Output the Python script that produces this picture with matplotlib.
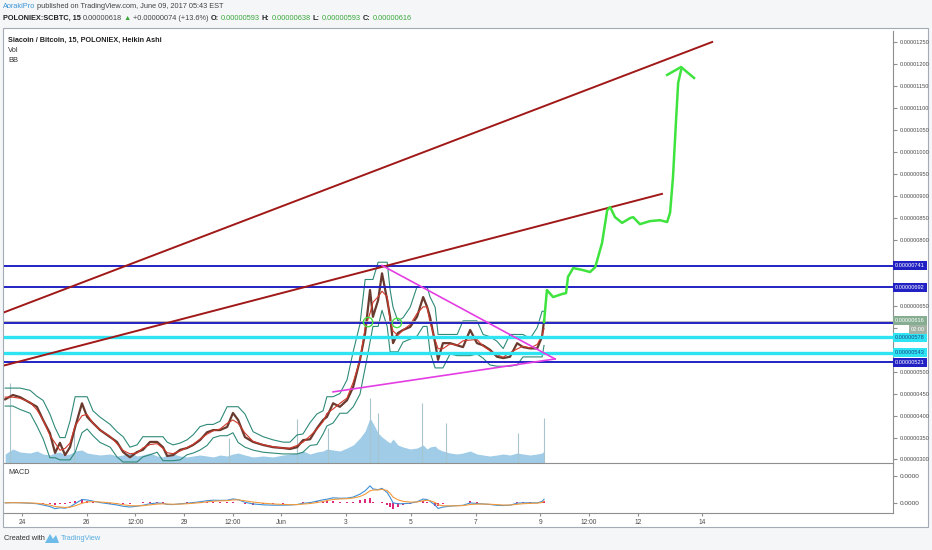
import matplotlib
matplotlib.use("Agg")
import matplotlib.pyplot as plt
import matplotlib.transforms as mtransforms
from matplotlib.patches import Rectangle, Polygon
import pandas as pd

plt.rcParams['font.family'] = ['Liberation Sans Narrow', 'Liberation Sans', 'DejaVu Sans']

W, H = 932, 550

# time = days after 24 May 2017 00:00, prices in satoshi (1e-8 BTC)
price_day = [-0.52, -0.28, -0.06, 0.25, 0.46, 0.65, 0.86, 1.02, 1.17, 1.33, 1.48, 1.64, 1.85, 2.01,
             2.19, 2.41, 2.72, 2.93, 3.12, 3.33, 3.55, 3.73, 3.95, 4.17, 4.35, 4.48, 4.66, 4.88,
             5.09, 5.28, 5.49, 5.71, 5.90, 6.11, 6.33, 6.51, 6.67, 6.88, 7.13, 7.44, 7.75, 8.06,
             8.27, 8.49, 8.67, 8.89, 9.10, 9.29, 9.41, 9.60, 9.81, 10.03, 10.22, 10.43, 10.59,
             10.74, 10.83, 10.99, 11.11, 11.27, 11.36, 11.45, 11.60, 11.76, 11.98, 12.19, 12.38,
             12.50, 12.59, 12.75, 12.84, 12.99, 13.21, 13.43, 13.61, 13.83, 14.04, 14.23, 14.44,
             14.66, 14.85, 15.06, 15.28, 15.46, 15.68, 15.90, 16.05, 16.11]
price_close = [437, 447, 442, 429, 420, 390, 360, 315, 338, 310, 328, 374, 428, 397,
               383, 367, 351, 340, 317, 305, 317, 322, 340, 340, 328, 308, 310, 322,
               326, 333, 344, 362, 367, 367, 374, 406, 390, 351, 340, 333, 328, 326,
               324, 328, 344, 346, 371, 390, 397, 428, 420, 435, 465, 527, 588,
               686, 625, 663, 724, 663, 625, 565, 588, 595, 602, 625, 670,
               648, 625, 565, 527, 565, 565, 560, 556, 595, 565, 560, 550,
               534, 531, 534, 565, 556, 553, 553, 580, 616]
# relative volume at the same times
vol_value = [9, 14, 11, 10, 12, 9, 8, 10, 11, 8, 9, 12, 13, 10,
             9, 8, 9, 7, 8, 10, 7, 8, 10, 7, 6, 8, 9, 7,
             6, 7, 8, 7, 6, 8, 7, 9, 10, 8, 6, 7, 6, 8,
             9, 10, 12, 9, 11, 12, 14, 13, 12, 15, 18, 25, 32,
             45, 40, 30, 26, 22, 20, 24, 18, 16, 14, 15, 18,
             14, 16, 17, 14, 12, 10, 9, 10, 12, 9, 8, 7,
             8, 9, 8, 10, 9, 8, 9, 10, 12]
spike_day = [-0.37, 1.6, 6.4, 8.5, 9.45, 10.75, 11.0, 12.34, 13.1, 15.3, 16.11]
spike_value = [80, 30, 25, 44, 35, 65, 50, 60, 40, 30, 45]

level_blue = [741, 692, 611, 521]
level_cyan = [578, 543]
last_price = 616

upper_trend_day = [-0.56, 21.3]
upper_trend_price = [635, 1251]
lower_trend_day = [-0.56, 19.75]
lower_trend_price = [514, 905]

tri_top_day = [11.11, 16.45]
tri_top_price = [742, 529]
tri_low_day = [9.60, 16.45]
tri_low_price = [454, 529]

proj_day = [16.11, 16.20, 16.39, 16.67, 16.79, 16.85, 17.01, 17.28, 17.53, 17.69, 17.90, 18.06,
            18.15, 18.30, 18.52, 18.77, 18.86, 19.07, 19.38, 19.69, 19.91, 20.00, 20.09, 20.19,
            20.25, 20.34]
proj_price = [613, 686, 670, 677, 679, 716, 736, 732, 727, 738, 793, 868,
              875, 852, 839, 850, 852, 836, 843, 845, 841, 862, 943, 1080,
              1158, 1187]
arrow_day = [19.91, 20.34, 20.74]
arrow_price = [1176, 1194, 1169]

mark_day = [10.68, 11.57]
mark_price = [613, 611]

price_ticks = list(range(300, 1300, 50))
hidden_ticks = [550, 600, 700, 750]  # covered by the level labels

tick_day = [0, 2, 3.5, 5, 6.5, 8, 10, 12, 14, 16, 17.5, 19, 21]
tick_text = ['24', '26', '12:00', '29', '12:00', 'Jun', '3', '5', '7', '9', '12:00', '12', '14']


def fx(x):
    return x / W


def fy(y):
    return 1 - y / H


fig = plt.figure(figsize=(W / 100, H / 100), dpi=100, facecolor='#f4f6f8')
renderer = fig.canvas.get_renderer()


def run_text(x, y, pieces, size, gap=2.5):
    # write pieces one after another on a line, x and y in pixels
    for txt, col, wt in pieces:
        t = fig.text(fx(x), fy(y), txt, color=col, fontsize=size, fontweight=wt, va='center')
        x += t.get_window_extent(renderer=renderer).width + gap


fig.add_artist(Rectangle((fx(3), fy(527)), 925 / W, 499 / H, transform=fig.transFigure,
                         facecolor='white', edgecolor='#a3acb4', lw=0.8, zorder=0))

ax = fig.add_axes([fx(4), fy(463), 889 / W, 432 / H])
ax.set_xlim(-0.556, 26.88)
ax.set_ylim(292, 1276)

# volume on its own scale
vax = ax.twinx()
vax.set_ylim(0, 432)
vax.fill_between(price_day, vol_value, color='#8fc3e3', alpha=0.85, lw=0)
vax.vlines(spike_day, 0, spike_value, color='#a9c4cc', lw=0.8)
vax.axis('off')
ax.set_zorder(vax.get_zorder() + 1)
ax.patch.set_visible(False)

# price with bands
s = pd.Series(price_close)
mid = s.rolling(3, center=True, min_periods=1).mean()
upper = s.rolling(3, center=True, min_periods=1).max() * 1.035
lower = s.rolling(3, center=True, min_periods=1).min() * 0.965
ax.plot(price_day, upper, color='#2f8a78', lw=0.8)
ax.plot(price_day, lower, color='#2f8a78', lw=0.8)
ax.plot(price_day, price_close, color='#6a3a2e', lw=1.6)
ax.plot(price_day, mid, color='#d0392b', lw=0.8)

# levels
for lv in level_blue:
    ax.axhline(lv, color='#2222c4', lw=1.4)
for lv in level_cyan:
    ax.axhline(lv, color='#2ee3f2', lw=2.4)
ax.axhline(last_price, color='#b0b0b0', lw=0.6)

ax.plot(upper_trend_day, upper_trend_price, color='#a01818', lw=1.4)
ax.plot(lower_trend_day, lower_trend_price, color='#a01818', lw=1.4)
ax.plot(tri_top_day, tri_top_price, color='#e43de4', lw=1.2)
ax.plot(tri_low_day, tri_low_price, color='#e43de4', lw=1.2)
ax.plot(proj_day, proj_price, color='#3ee33e', lw=1.8)
ax.plot(arrow_day, arrow_price, color='#3ee33e', lw=1.8)
ax.scatter(mark_day, mark_price, s=45, facecolors='none', edgecolors='#44dd44', lw=1.0, zorder=5)

ax.yaxis.tick_right()
ax.set_yticks(price_ticks)
ax.set_yticklabels(['' if v in hidden_ticks else '0.%08d' % v for v in price_ticks])
ax.tick_params(axis='y', labelsize=4.1, labelcolor='#4a4a4a', color='#8f8f8f', length=3, pad=1.5)
ax.set_xticks([])
for side in ['left', 'top']:
    ax.spines[side].set_visible(False)
for side in ['right', 'bottom']:
    ax.spines[side].set_color('#8f8f8f')
    ax.spines[side].set_linewidth(0.8)

# price labels on the axis
tr = mtransforms.blended_transform_factory(ax.transAxes, ax.transData)
box_x = 1.0025
for lv in level_blue:
    if lv == 611:
        continue
    ax.text(box_x, lv, '0.%08d' % lv, transform=tr, fontsize=4.1, color='white', va='center',
            ha='left', clip_on=False, zorder=6,
            bbox=dict(boxstyle='square,pad=0.35', fc='#2222c4', ec='none'))
for lv in level_cyan:
    ax.text(box_x, lv, '0.%08d' % lv, transform=tr, fontsize=4.1, color='#1a4a8a', va='center',
            ha='left', clip_on=False, zorder=6,
            bbox=dict(boxstyle='square,pad=0.35', fc='#2ee3f2', ec='none'))
ax.text(box_x, last_price, '0.%08d' % last_price, transform=tr, fontsize=4.1, color='white',
        va='center', ha='left', clip_on=False, zorder=7,
        bbox=dict(boxstyle='square,pad=0.35', fc='#86ad92', ec='none'))
ax.text(1.036, 595, '02:00', transform=tr, fontsize=4.1, color='white', va='center', ha='right',
        clip_on=False, zorder=7, bbox=dict(boxstyle='square,pad=0.35', fc='#a2b3a6', ec='none'))

# MACD pane
mac = fig.add_axes([fx(4), fy(513), 889 / W, 49 / H])
mac.set_xlim(-0.556, 26.88)
mac.set_ylim(-55, 210)
macd = s.ewm(span=3).mean() - s.ewm(span=8).mean()
signal = macd.ewm(span=4).mean()
mac.bar(price_day, macd - signal, width=0.08, color='#e0287a')
mac.plot(price_day, macd, color='#3d8fd8', lw=0.8)
mac.plot(price_day, signal, color='#f39a3c', lw=0.8)
mac.patch.set_visible(False)
mac.yaxis.tick_right()
mac.set_yticks([0, 143])
mac.set_yticklabels(['0.0000', '0.0000'])
mac.tick_params(axis='y', labelsize=4.6, labelcolor='#4a4a4a', color='#8f8f8f', length=3, pad=1.5)
mac.set_xticks(tick_day)
mac.set_xticklabels(tick_text)
mac.tick_params(axis='x', labelsize=4.8, labelcolor='#4a4a4a', color='#8f8f8f', length=2, pad=2)
for side in ['left', 'top']:
    mac.spines[side].set_visible(False)
for side in ['right', 'bottom']:
    mac.spines[side].set_color('#8f8f8f')
    mac.spines[side].set_linewidth(0.8)
mac.text(0.005, 0.82, 'MACD', transform=mac.transAxes, fontsize=5.2, color='#333333', va='center')

# header
green = '#3aa83a'
run_text(3, 7, [('AorakiPro', '#3b97d6', 'normal'),
                ('published on TradingView.com, June 09, 2017 05:43 EST', '#444444', 'normal')],
         5.3, gap=1.5)
run_text(3, 18, [('POLONIEX:SCBTC, 15', '#222222', 'bold'), ('0.00000618', '#444444', 'normal'),
                 ('\u25b2', green, 'normal'), ('+0.00000074 (+13.6%)', '#444444', 'normal'),
                 ('O:', '#222222', 'bold'), ('0.00000593', green, 'normal'),
                 ('H:', '#222222', 'bold'), ('0.00000638', green, 'normal'),
                 ('L:', '#222222', 'bold'), ('0.00000593', green, 'normal'),
                 ('C:', '#222222', 'bold'), ('0.00000616', green, 'normal')], 5.3, gap=2)

fig.text(fx(8), fy(40), 'Siacoin / Bitcoin, 15, POLONIEX, Heikin Ashi', color='#222222',
         fontsize=5.2, fontweight='bold', va='center')
fig.text(fx(8), fy(50), 'Vol', color='#333333', fontsize=5.4, va='center')
fig.text(fx(8), fy(61), 'BB', color='#333333', fontsize=5.4, va='center')

# footer
fig.text(fx(4), fy(538), 'Created with', color='#333333', fontsize=5.3, va='center')
fig.add_artist(Polygon([(fx(45), fy(543)), (fx(50), fy(534)), (fx(53), fy(539)), (fx(56), fy(535)),
                        (fx(59), fy(543))], closed=True, transform=fig.transFigure,
                       fc='#6cbbe8', ec='none'))
fig.text(fx(61), fy(538), 'TradingView', color='#5aaee0', fontsize=5.3, va='center')

fig.savefig('out.png', dpi=100, facecolor=fig.get_facecolor())
